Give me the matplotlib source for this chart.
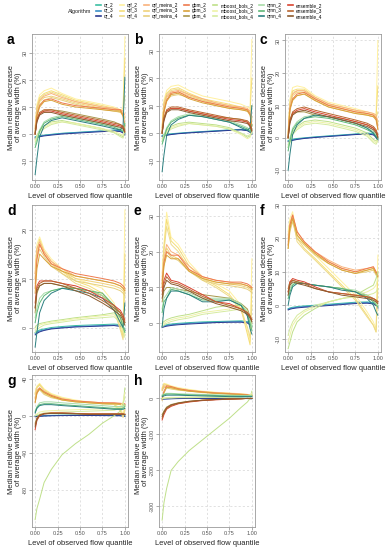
import matplotlib
matplotlib.use("Agg")
import matplotlib.pyplot as plt
from matplotlib.lines import Line2D

plt.rcParams["font.family"] = ["Liberation Sans", "DejaVu Sans"]

QUANTILE = [0.0, 0.02, 0.05, 0.1, 0.18, 0.3, 0.45, 0.6, 0.75, 0.88, 0.95, 0.98, 1.0]

SERIES = ["qr_2", "qr_3", "qr_4",
          "qrf_2", "qrf_3", "qrf_4",
          "qrf_meins_2", "qrf_meins_3", "qrf_meins_4",
          "gbm_2", "gbm_3", "gbm_4",
          "mboost_bols_2", "mboost_bols_3", "mboost_bols_4",
          "qrnn_2", "qrnn_3", "qrnn_4",
          "ensemble_2", "ensemble_3", "ensemble_4"]

COLORS = ["#3CBFA3", "#3A8FC7", "#2B3990",
          "#FFF1A0", "#F5DE78", "#EEDB8A",
          "#F9B27C", "#F0D27A", "#E6CF7E",
          "#EE7A4E", "#D9A23A", "#A8964A",
          "#BFE08A", "#EEF2A6", "#D6EBA0",
          "#A8DCA8", "#5DB877", "#2A7F7F",
          "#D9432F", "#B8652F", "#8C5A2E"]

PANEL_A = {
    "qr_2": [-1.0, -0.8, -0.6, -0.4, -0.1, 0.3, 0.6, 0.9, 1.2, 1.5, 1.3, 0.8, 0.2],
    "qr_3": [-1.2, -1.0, -0.8, -0.5, -0.2, 0.2, 0.5, 0.8, 1.1, 1.4, 1.2, 0.6, 0.0],
    "qr_4": [-1.5, -1.3, -1.0, -0.7, -0.4, 0.0, 0.3, 0.6, 0.9, 1.1, 0.9, 0.4, -0.4],
    "qrf_2": [3.0, 11.0, 14.5, 16.0, 17.0, 15.0, 13.0, 12.0, 11.0, 10.0, 9.0, 9.5, 36.0],
    "qrf_3": [2.0, 10.0, 13.5, 15.0, 16.0, 14.5, 12.5, 11.5, 10.5, 9.5, 8.5, 8.5, 28.0],
    "qrf_4": [2.0, 9.5, 13.0, 14.5, 15.5, 14.0, 12.0, 11.0, 10.0, 9.0, 8.0, 8.0, 14.0],
    "qrf_meins_2": [1.0, 9.0, 12.5, 14.0, 15.0, 13.5, 12.0, 11.0, 10.0, 9.5, 9.0, 8.5, 7.0],
    "qrf_meins_3": [1.0, 8.5, 12.0, 13.5, 14.0, 13.0, 11.5, 10.5, 9.5, 9.0, 8.5, 7.5, 6.0],
    "qrf_meins_4": [0.5, 8.0, 11.0, 12.5, 13.5, 12.5, 11.0, 10.0, 9.0, 8.5, 8.0, 7.0, 5.5],
    "gbm_2": [0.5, 7.0, 10.5, 12.5, 13.0, 11.5, 10.5, 10.0, 9.5, 9.0, 9.0, 7.0, 3.0],
    "gbm_3": [0.0, 6.5, 10.0, 12.0, 12.5, 11.0, 10.0, 9.5, 9.0, 8.5, 8.5, 6.5, 2.5],
    "gbm_4": [0.0, 5.0, 7.5, 8.5, 9.0, 8.5, 7.5, 6.5, 5.5, 4.5, 3.5, 2.5, 1.0],
    "mboost_bols_2": [-2.0, -0.5, 1.5, 3.0, 4.5, 5.0, 4.0, 3.0, 2.0, 0.5, -0.5, -1.0, 4.0],
    "mboost_bols_3": [-2.5, -1.0, 1.0, 2.5, 4.0, 4.5, 4.0, 3.0, 2.0, 1.0, 0.0, -0.5, 2.0],
    "mboost_bols_4": [-3.0, -1.5, 0.5, 2.0, 3.5, 4.5, 3.5, 2.5, 1.5, 0.5, -1.0, -1.5, 1.0],
    "qrnn_2": [-4.0, -2.0, 1.5, 4.5, 6.0, 7.0, 6.0, 5.0, 4.0, 3.0, 2.0, 1.5, 2.0],
    "qrnn_3": [-5.0, -3.0, 1.0, 4.0, 5.5, 6.5, 5.5, 4.5, 3.5, 2.5, 1.5, 1.0, 4.0],
    "qrnn_4": [-15.0, -9.0, -1.0, 3.0, 5.0, 6.0, 5.0, 4.0, 3.0, 2.0, 1.5, 3.0, 21.0],
    "ensemble_2": [0.0, 5.0, 7.5, 8.5, 8.5, 7.5, 6.5, 5.5, 4.5, 3.5, 3.0, 2.5, 1.0],
    "ensemble_3": [0.0, 5.5, 8.0, 9.0, 9.0, 8.0, 7.0, 6.0, 5.0, 4.0, 3.5, 3.0, 1.5],
    "ensemble_4": [0.0, 4.5, 7.0, 8.0, 8.0, 7.0, 6.0, 5.0, 4.0, 3.0, 2.5, 2.0, 0.5],
}

PANEL_B = {
    "qr_2": [-0.8, -0.6, -0.4, -0.2, 0.0, 0.3, 0.6, 0.9, 1.2, 1.4, 1.2, 0.7, 0.1],
    "qr_3": [-1.0, -0.8, -0.6, -0.4, -0.1, 0.2, 0.5, 0.8, 1.1, 1.3, 1.0, 0.5, -0.2],
    "qr_4": [-1.2, -1.0, -0.8, -0.5, -0.2, 0.1, 0.4, 0.7, 1.0, 1.2, 0.9, 0.3, -0.5],
    "qrf_2": [3.0, 12.0, 15.5, 17.0, 17.5, 15.5, 13.5, 12.5, 11.5, 10.5, 9.5, 9.0, 34.0],
    "qrf_3": [2.0, 11.0, 14.5, 16.0, 16.5, 14.5, 12.5, 11.5, 10.5, 9.5, 8.5, 8.0, 20.0],
    "qrf_4": [2.0, 10.5, 14.0, 15.5, 16.0, 14.0, 12.0, 11.0, 10.0, 9.0, 8.0, 7.5, 10.0],
    "qrf_meins_2": [1.0, 10.0, 13.5, 15.0, 15.5, 14.0, 12.5, 11.0, 10.0, 9.5, 9.0, 8.0, 6.0],
    "qrf_meins_3": [1.0, 9.5, 13.0, 14.5, 15.0, 13.5, 12.0, 10.5, 9.5, 9.0, 8.5, 7.5, 5.5],
    "qrf_meins_4": [0.5, 9.0, 12.0, 13.5, 14.0, 13.0, 11.5, 10.0, 9.0, 8.5, 8.0, 7.0, 5.0],
    "gbm_2": [0.5, 8.0, 12.0, 14.5, 15.0, 13.0, 11.5, 10.5, 9.5, 9.0, 8.5, 7.0, 3.0],
    "gbm_3": [0.0, 7.5, 11.5, 14.0, 14.5, 12.5, 11.0, 10.0, 9.0, 8.5, 8.0, 6.5, 2.5],
    "gbm_4": [0.0, 5.5, 8.0, 9.0, 9.0, 8.0, 7.0, 6.0, 5.5, 5.0, 4.0, 2.5, 1.0],
    "mboost_bols_2": [-2.0, -0.5, 1.0, 2.5, 3.5, 4.0, 3.5, 3.0, 2.0, 0.0, -1.5, -1.0, 1.0],
    "mboost_bols_3": [-2.5, -1.0, 0.5, 2.0, 3.0, 3.5, 3.0, 2.5, 1.5, -0.5, -2.0, -1.5, 0.5],
    "mboost_bols_4": [-3.0, -1.5, 0.0, 1.5, 2.5, 3.5, 3.0, 2.5, 1.5, 0.0, -1.0, -0.5, 0.0],
    "qrnn_2": [-3.0, -1.0, 2.0, 4.5, 6.0, 7.0, 6.5, 5.5, 4.5, 3.0, 2.0, 1.0, 1.5],
    "qrnn_3": [-4.0, -2.0, 1.5, 4.0, 5.5, 6.5, 6.0, 5.0, 4.0, 2.5, 1.5, 0.5, 3.0],
    "qrnn_4": [-14.0, -8.0, -1.0, 3.0, 5.0, 6.5, 6.0, 5.0, 4.0, 2.0, 1.0, 2.0, 10.0],
    "ensemble_2": [0.0, 5.0, 8.0, 9.0, 9.0, 8.0, 7.0, 6.0, 5.0, 4.5, 4.0, 3.0, 1.0],
    "ensemble_3": [0.0, 5.5, 8.5, 9.5, 9.5, 8.5, 7.5, 6.5, 5.5, 5.0, 4.5, 3.5, 1.5],
    "ensemble_4": [0.0, 4.5, 7.5, 8.5, 8.5, 7.5, 6.5, 5.5, 4.5, 4.0, 3.5, 2.5, 0.5],
}

PANEL_C = {
    "qr_2": [-0.8, -0.6, -0.4, -0.2, 0.0, 0.3, 0.6, 0.9, 1.2, 1.5, 1.3, 0.6, -0.2],
    "qr_3": [-1.0, -0.8, -0.6, -0.4, -0.1, 0.2, 0.5, 0.8, 1.1, 1.3, 1.1, 0.4, -0.5],
    "qr_4": [-1.2, -1.0, -0.8, -0.5, -0.2, 0.1, 0.4, 0.7, 1.0, 1.2, 0.9, 0.2, -0.8],
    "qrf_2": [2.0, 12.0, 15.5, 16.0, 15.5, 13.0, 11.0, 10.0, 9.0, 8.0, 7.5, 7.0, 30.0],
    "qrf_3": [1.5, 11.0, 14.5, 15.0, 15.0, 12.5, 10.5, 9.5, 8.5, 7.5, 7.0, 6.5, 16.0],
    "qrf_4": [1.0, 10.5, 14.0, 14.5, 14.5, 12.0, 10.0, 9.0, 8.0, 7.0, 6.5, 6.0, 8.0],
    "qrf_meins_2": [1.0, 10.0, 13.5, 14.5, 14.5, 12.5, 10.5, 9.5, 8.5, 8.0, 7.5, 7.0, 5.0],
    "qrf_meins_3": [1.0, 9.5, 13.0, 14.0, 14.0, 12.0, 10.0, 9.0, 8.0, 7.5, 7.0, 6.5, 4.5],
    "qrf_meins_4": [0.5, 9.0, 12.0, 13.0, 13.5, 11.5, 9.5, 8.5, 7.5, 7.0, 6.5, 6.0, 4.0],
    "gbm_2": [0.5, 9.0, 12.0, 13.5, 14.0, 12.0, 10.0, 9.0, 8.0, 7.5, 7.0, 6.0, 3.0],
    "gbm_3": [0.0, 8.5, 11.5, 13.0, 13.5, 11.5, 9.5, 8.5, 7.5, 7.0, 6.5, 5.5, 2.5],
    "gbm_4": [0.0, 5.5, 7.5, 8.0, 8.0, 7.0, 6.5, 6.0, 5.0, 4.0, 3.0, 2.0, 0.5],
    "mboost_bols_2": [-2.0, -0.5, 2.0, 3.5, 5.0, 5.5, 5.0, 4.0, 3.0, 1.5, -0.5, -1.0, 0.0],
    "mboost_bols_3": [-2.5, -1.0, 1.5, 3.0, 4.5, 5.0, 4.5, 3.5, 2.5, 1.0, -1.0, -1.5, -0.5],
    "mboost_bols_4": [-3.0, -1.5, 1.0, 2.5, 4.0, 4.5, 4.0, 3.0, 2.0, 0.5, -1.5, -2.0, -1.0],
    "qrnn_2": [-3.0, 0.0, 3.0, 5.0, 6.5, 7.0, 6.5, 5.5, 4.5, 3.0, 2.0, 1.0, 0.5],
    "qrnn_3": [-4.0, -1.0, 2.5, 4.5, 6.0, 6.5, 6.0, 5.0, 4.0, 2.5, 1.5, 0.5, 0.0],
    "qrnn_4": [-10.0, -5.0, 1.0, 4.0, 6.0, 7.0, 6.5, 5.5, 4.5, 3.0, 1.5, 0.0, -0.5],
    "ensemble_2": [0.0, 5.0, 7.5, 8.5, 9.0, 8.0, 7.0, 6.0, 5.0, 4.0, 3.0, 2.0, 0.5],
    "ensemble_3": [0.0, 5.5, 8.0, 9.0, 9.5, 8.5, 7.5, 6.5, 5.5, 4.5, 3.5, 2.5, 1.0],
    "ensemble_4": [0.0, 4.5, 7.0, 8.0, 8.5, 7.5, 6.5, 5.5, 4.5, 3.5, 2.5, 1.5, 0.0],
}

PANEL_D = {
    "qr_2": [-1.0, -0.8, -0.5, -0.3, 0.0, 0.2, 0.4, 0.5, 0.6, 0.7, 0.6, 0.2, -0.3],
    "qr_3": [-1.2, -1.0, -0.7, -0.5, -0.2, 0.0, 0.2, 0.3, 0.4, 0.5, 0.4, 0.0, -0.5],
    "qr_4": [-1.5, -1.2, -0.9, -0.6, -0.3, -0.1, 0.1, 0.2, 0.3, 0.4, 0.2, -0.2, -0.6],
    "qrf_2": [12.0, 17.0, 18.5, 16.0, 14.0, 12.0, 10.0, 9.0, 8.0, 5.0, 1.0, -1.5, 24.0],
    "qrf_3": [11.0, 16.0, 18.0, 15.5, 13.5, 11.5, 9.5, 8.5, 7.0, 4.0, 0.0, -2.0, 15.0],
    "qrf_4": [10.0, 15.0, 17.0, 15.0, 13.0, 11.0, 9.0, 8.0, 6.5, 3.5, -0.5, -2.5, 8.0],
    "qrf_meins_2": [11.0, 16.0, 17.5, 15.5, 13.5, 12.0, 10.5, 10.0, 9.5, 9.0, 8.5, 8.0, 7.5],
    "qrf_meins_3": [10.0, 15.0, 17.0, 15.0, 13.0, 11.5, 10.0, 9.5, 9.0, 8.5, 8.0, 7.5, 7.0],
    "qrf_meins_4": [9.0, 14.0, 16.0, 14.5, 12.5, 11.0, 9.5, 9.0, 8.5, 8.0, 7.5, 7.0, 6.5],
    "gbm_2": [8.0, 14.0, 17.0, 15.0, 13.0, 12.0, 11.0, 10.5, 10.0, 9.5, 9.0, 8.5, 8.0],
    "gbm_3": [7.0, 12.0, 15.0, 14.0, 12.5, 11.5, 10.5, 10.0, 9.5, 9.0, 8.5, 8.0, 7.5],
    "gbm_4": [3.0, 7.0, 8.5, 9.0, 9.0, 8.5, 8.0, 7.5, 6.5, 4.5, 3.0, 2.0, 1.0],
    "mboost_bols_2": [0.0, 0.5, 0.8, 1.0, 1.3, 1.6, 2.0, 2.3, 2.6, 3.0, 2.0, 0.5, -1.0],
    "mboost_bols_3": [-0.5, 0.0, 0.5, 0.8, 1.1, 1.4, 1.8, 2.1, 2.4, 2.6, 1.5, 0.0, -1.5],
    "mboost_bols_4": [-1.0, -0.5, 0.0, 0.5, 0.8, 1.1, 1.5, 1.8, 2.0, 2.2, 1.0, -0.5, -2.0],
    "qrnn_2": [2.0, 4.0, 6.0, 7.0, 7.5, 8.0, 8.0, 7.5, 6.5, 4.0, 2.0, 1.0, 0.5],
    "qrnn_3": [1.0, 3.0, 5.0, 6.5, 7.5, 8.0, 8.0, 7.5, 7.0, 4.5, 2.0, 0.0, -1.0],
    "qrnn_4": [-4.0, -1.0, 3.0, 5.5, 7.0, 8.0, 7.5, 7.0, 6.0, 3.5, 1.0, 0.0, 5.0],
    "ensemble_2": [5.0, 8.5, 9.5, 9.5, 9.5, 9.0, 8.5, 7.5, 6.0, 4.5, 3.5, 2.5, 1.5],
    "ensemble_3": [4.0, 8.0, 9.0, 9.5, 9.5, 9.0, 8.0, 7.0, 5.5, 4.0, 3.0, 2.0, 1.0],
    "ensemble_4": [4.0, 7.5, 8.5, 9.0, 9.0, 8.5, 7.5, 6.5, 5.0, 3.5, 2.5, 1.5, 0.5],
}

PANEL_E = {
    "qr_2": [-0.8, -0.6, -0.4, -0.2, 0.0, 0.2, 0.4, 0.5, 0.6, 0.7, 0.5, 0.0, -0.5],
    "qr_3": [-1.0, -0.8, -0.6, -0.4, -0.2, 0.0, 0.2, 0.3, 0.4, 0.5, 0.3, -0.2, -0.8],
    "qr_4": [-1.2, -1.0, -0.8, -0.6, -0.4, -0.2, 0.0, 0.2, 0.3, 0.3, 0.1, -0.4, -1.0],
    "qrf_2": [14.0, 22.0, 31.0, 24.0, 22.0, 17.0, 13.0, 11.0, 9.0, 5.0, -2.0, -5.0, 18.0],
    "qrf_3": [13.0, 21.0, 29.0, 23.0, 21.0, 16.0, 12.5, 10.5, 8.0, 4.0, -3.0, -6.0, 10.0],
    "qrf_4": [12.0, 20.0, 27.0, 22.0, 20.0, 15.0, 12.0, 10.0, 7.5, 3.5, -1.0, -4.0, 5.0],
    "qrf_meins_2": [12.0, 18.0, 22.0, 20.0, 19.0, 16.0, 13.0, 12.0, 11.5, 11.0, 10.5, 10.0, 10.0],
    "qrf_meins_3": [11.0, 17.0, 21.0, 19.0, 18.0, 15.0, 12.5, 11.5, 11.0, 10.5, 10.0, 9.5, 9.0],
    "qrf_meins_4": [10.0, 16.0, 20.0, 18.5, 17.5, 14.5, 12.0, 11.0, 10.5, 10.0, 9.5, 9.0, 8.5],
    "gbm_2": [11.0, 17.0, 20.0, 19.0, 19.0, 15.0, 13.0, 12.0, 11.5, 11.5, 11.0, 10.5, 10.0],
    "gbm_3": [10.0, 16.0, 19.0, 18.0, 18.0, 14.5, 12.5, 11.5, 11.0, 11.0, 10.5, 10.0, 9.5],
    "gbm_4": [6.0, 9.0, 10.0, 10.0, 9.5, 9.0, 8.0, 7.5, 7.0, 5.5, 4.0, 2.0, 0.0],
    "mboost_bols_2": [0.0, 0.5, 1.0, 1.5, 2.0, 2.5, 3.5, 4.5, 5.0, 5.0, 3.5, 1.0, -0.5],
    "mboost_bols_3": [-0.5, 0.0, 0.5, 1.0, 1.5, 2.0, 3.0, 3.5, 4.0, 4.5, 3.0, 0.5, -1.0],
    "mboost_bols_4": [-1.0, -0.5, 0.0, 0.5, 1.0, 1.5, 2.5, 3.0, 3.5, 4.0, 2.5, 0.0, -1.5],
    "qrnn_2": [4.0, 7.0, 8.0, 10.0, 9.5, 8.5, 7.0, 7.0, 7.0, 5.5, 3.0, 1.0, -1.0],
    "qrnn_3": [3.0, 6.0, 7.0, 9.5, 9.0, 8.0, 6.5, 6.5, 6.5, 5.0, 2.5, 0.0, -2.0],
    "qrnn_4": [-1.0, 4.0, 7.0, 9.0, 9.0, 8.0, 6.0, 6.0, 6.5, 5.0, 2.0, -1.5, -3.0],
    "ensemble_2": [9.0, 12.0, 14.0, 12.0, 11.5, 10.0, 8.0, 6.0, 5.5, 4.0, 3.0, 2.0, 1.0],
    "ensemble_3": [8.0, 11.0, 13.0, 11.5, 11.0, 9.5, 7.5, 6.0, 5.0, 4.0, 3.0, 2.0, 1.0],
    "ensemble_4": [7.0, 10.0, 12.0, 11.0, 10.5, 9.0, 7.0, 5.5, 4.5, 3.5, 2.5, 1.5, 0.5],
}

PANEL_F = {
    "qr_2": [-1.0, -0.8, -0.6, -0.4, -0.2, 0.0, 0.3, 0.6, 0.9, 1.0, 0.8, 0.3, -0.5],
    "qr_3": [-1.2, -1.0, -0.8, -0.6, -0.4, -0.2, 0.1, 0.4, 0.7, 0.8, 0.6, 0.1, -0.7],
    "qr_4": [-1.4, -1.2, -1.0, -0.8, -0.6, -0.4, -0.1, 0.2, 0.5, 0.6, 0.4, -0.1, -0.9],
    "qrf_2": [22.0, 26.0, 28.0, 21.0, 18.0, 15.0, 11.0, 7.0, 3.0, -2.0, -5.0, -7.0, 15.0],
    "qrf_3": [21.0, 25.0, 27.0, 20.0, 17.0, 14.0, 10.0, 6.0, 2.0, -3.0, -6.0, -8.0, 10.0],
    "qrf_4": [20.0, 24.0, 26.0, 19.0, 16.5, 13.5, 9.5, 5.5, 1.5, -3.5, -6.0, -8.0, 5.0],
    "qrf_meins_2": [19.0, 24.0, 27.0, 22.0, 19.0, 16.0, 13.5, 11.5, 10.5, 11.0, 11.5, 10.0, 9.5],
    "qrf_meins_3": [18.0, 23.0, 26.0, 21.0, 18.5, 15.5, 13.0, 11.0, 10.0, 10.5, 11.0, 9.5, 9.0],
    "qrf_meins_4": [17.0, 22.0, 25.0, 20.0, 18.0, 15.0, 12.5, 10.5, 9.5, 10.0, 10.5, 9.0, 8.5],
    "gbm_2": [18.0, 24.0, 27.0, 22.0, 19.0, 16.0, 13.0, 11.0, 10.0, 11.0, 11.5, 10.0, 9.0],
    "gbm_3": [17.0, 23.0, 26.0, 21.0, 18.5, 15.5, 12.5, 10.5, 9.5, 10.5, 11.0, 9.5, 8.5],
    "gbm_4": [5.0, 7.0, 7.5, 7.0, 6.5, 6.0, 5.5, 5.0, 4.0, 3.0, 2.0, 1.5, 1.0],
    "mboost_bols_2": [-13.0, -11.0, -8.0, -5.0, -3.0, -1.0, 1.0, 2.0, 3.0, 5.0, 6.0, 8.0, 10.0],
    "mboost_bols_3": [-11.0, -9.0, -6.0, -4.0, -2.0, -0.5, 1.0, 2.0, 3.0, 4.0, 5.0, 6.0, 8.0],
    "mboost_bols_4": [-9.0, -7.0, -5.0, -3.0, -1.5, 0.0, 1.0, 2.0, 2.5, 3.0, 3.5, 4.0, 5.0],
    "qrnn_2": [3.0, 5.0, 6.5, 7.0, 6.5, 6.0, 5.5, 5.0, 4.5, 3.0, 1.5, 0.5, 0.0],
    "qrnn_3": [2.0, 4.0, 6.0, 7.0, 6.5, 6.0, 5.5, 5.0, 4.0, 2.5, 1.0, 0.0, -0.5],
    "qrnn_4": [0.0, 3.0, 5.5, 6.5, 6.5, 6.0, 5.5, 4.5, 4.0, 2.0, 0.0, -2.0, -3.0],
    "ensemble_2": [4.0, 7.0, 8.0, 7.5, 7.0, 5.5, 4.0, 3.5, 3.0, 2.5, 2.0, 1.5, 1.0],
    "ensemble_3": [4.0, 6.5, 7.5, 7.0, 6.5, 5.0, 4.0, 3.5, 3.0, 2.5, 2.0, 1.5, 1.0],
    "ensemble_4": [3.0, 6.0, 7.0, 6.5, 6.0, 5.0, 4.0, 3.0, 2.5, 2.0, 1.5, 1.0, 0.5],
}

PANEL_G = {
    "qr_2": [0.0, 0.0, 0.0, 0.3, 0.5, 0.7, 0.8, 0.8, 0.7, 0.6, 0.5, 0.3, 0.0],
    "qr_3": [-0.5, -0.5, -0.3, 0.0, 0.2, 0.4, 0.5, 0.5, 0.4, 0.3, 0.2, 0.0, -0.3],
    "qr_4": [-1.0, -0.8, -0.6, -0.3, 0.0, 0.2, 0.3, 0.3, 0.2, 0.1, 0.0, -0.2, -0.5],
    "qrf_2": [25.0, 32.0, 35.0, 29.0, 24.0, 20.0, 17.0, 15.0, 14.0, 13.0, 8.0, 2.0, 10.0],
    "qrf_3": [24.0, 31.0, 34.0, 28.0, 23.0, 19.0, 16.0, 14.5, 13.5, 12.5, 6.0, 0.0, 8.0],
    "qrf_4": [23.0, 30.0, 33.0, 27.0, 22.0, 18.5, 15.5, 14.0, 13.0, 12.0, 5.0, -2.0, 5.0],
    "qrf_meins_2": [20.0, 28.0, 30.0, 25.0, 21.0, 18.0, 16.0, 15.0, 14.0, 13.5, 13.0, 12.5, 12.0],
    "qrf_meins_3": [19.0, 27.0, 29.0, 24.0, 20.0, 17.5, 15.5, 14.5, 13.5, 13.0, 12.5, 12.0, 11.5],
    "qrf_meins_4": [18.0, 26.0, 28.0, 23.0, 19.5, 17.0, 15.0, 14.0, 13.0, 12.5, 12.0, 11.5, 11.0],
    "gbm_2": [15.0, 25.0, 30.0, 26.0, 22.0, 18.0, 16.0, 15.0, 14.0, 14.0, 13.5, 13.0, 13.0],
    "gbm_3": [14.0, 24.0, 29.0, 25.0, 21.0, 17.0, 15.0, 14.0, 13.0, 13.0, 12.5, 12.0, 12.0],
    "gbm_4": [-8.0, -2.0, 1.0, 2.5, 3.0, 3.0, 2.5, 2.0, 2.0, 2.0, 2.0, 2.0, 1.5],
    "mboost_bols_2": [-112.0, -100.0, -90.0, -72.0, -58.0, -42.0, -30.0, -20.0, -8.0, 0.0, 5.0, 10.0, 30.0],
    "mboost_bols_3": [0.0, 2.0, 4.0, 5.0, 5.5, 6.0, 6.5, 7.0, 7.5, 8.0, 10.0, 15.0, 25.0],
    "mboost_bols_4": [0.0, 1.0, 2.0, 3.0, 3.5, 4.0, 4.5, 5.0, 5.5, 6.0, 8.0, 12.0, 20.0],
    "qrnn_2": [5.0, 10.0, 14.0, 15.0, 15.0, 14.0, 13.0, 12.0, 11.0, 10.0, 10.0, 10.0, 12.0],
    "qrnn_3": [4.0, 9.0, 12.0, 13.0, 13.0, 12.0, 11.0, 10.0, 9.0, 8.0, 8.0, 8.0, 10.0],
    "qrnn_4": [3.0, 8.0, 11.0, 12.0, 12.0, 11.0, 10.0, 9.0, 8.0, 7.0, 7.0, 7.0, 8.0],
    "ensemble_2": [-15.0, -5.0, 0.0, 2.0, 3.0, 3.0, 2.5, 2.0, 2.0, 2.0, 2.0, 2.0, 1.5],
    "ensemble_3": [-10.0, -3.0, 1.0, 2.5, 3.0, 3.0, 2.5, 2.0, 2.0, 2.0, 2.0, 2.0, 1.5],
    "ensemble_4": [-12.0, -4.0, 0.5, 2.0, 2.5, 2.5, 2.0, 1.5, 1.5, 1.5, 1.5, 1.5, 1.0],
}

PANEL_H = {
    "qr_2": [0.0, 0.0, 0.0, 0.0, 0.5, 1.0, 1.0, 1.0, 1.0, 1.0, 0.5, 0.0, 0.0],
    "qr_3": [-1.0, -1.0, -1.0, -0.5, 0.0, 0.5, 0.5, 0.5, 0.5, 0.5, 0.0, -0.5, -0.5],
    "qr_4": [-2.0, -2.0, -1.5, -1.0, -0.5, 0.0, 0.0, 0.0, 0.0, 0.0, -0.5, -1.0, -1.0],
    "qrf_2": [30.0, 42.0, 40.0, 35.0, 30.0, 25.0, 20.0, 17.0, 15.0, 13.0, 11.0, 10.0, 10.0],
    "qrf_3": [28.0, 40.0, 38.0, 33.0, 28.0, 23.0, 19.0, 16.0, 14.0, 12.0, 10.0, 9.0, 9.0],
    "qrf_4": [26.0, 38.0, 36.0, 31.0, 26.0, 22.0, 18.0, 15.0, 13.0, 11.0, 10.0, 9.0, 8.0],
    "qrf_meins_2": [25.0, 35.0, 33.0, 30.0, 26.0, 22.0, 18.0, 16.0, 14.0, 12.0, 11.0, 10.0, 10.0],
    "qrf_meins_3": [23.0, 33.0, 31.0, 28.0, 24.0, 21.0, 17.0, 15.0, 13.0, 11.0, 10.0, 9.0, 9.0],
    "qrf_meins_4": [21.0, 31.0, 29.0, 26.0, 23.0, 20.0, 16.0, 14.0, 12.0, 10.0, 9.0, 8.0, 8.0],
    "gbm_2": [0.0, 20.0, 35.0, 33.0, 27.0, 22.0, 18.0, 15.0, 13.0, 11.0, 10.0, 9.0, 8.0],
    "gbm_3": [-5.0, 15.0, 30.0, 30.0, 25.0, 20.0, 17.0, 14.0, 12.0, 10.0, 9.0, 8.0, 7.0],
    "gbm_4": [-45.0, -35.0, -24.0, -17.0, -12.0, -8.0, -5.0, -3.0, -2.0, -1.0, 0.0, 0.0, 0.0],
    "mboost_bols_2": [-338.0, -290.0, -250.0, -200.0, -175.0, -145.0, -115.0, -85.0, -55.0, -25.0, -10.0, 0.0, 20.0],
    "mboost_bols_3": [0.0, 1.0, 2.0, 3.0, 3.0, 4.0, 4.0, 5.0, 5.0, 6.0, 8.0, 10.0, 15.0],
    "mboost_bols_4": [0.0, 0.0, 1.0, 1.0, 2.0, 2.0, 3.0, 3.0, 3.0, 4.0, 5.0, 7.0, 10.0],
    "qrnn_2": [10.0, 12.0, 14.0, 14.0, 13.0, 12.0, 11.0, 10.0, 9.0, 8.0, 8.0, 8.0, 8.0],
    "qrnn_3": [8.0, 10.0, 12.0, 12.0, 11.0, 10.0, 9.0, 8.0, 7.0, 6.0, 6.0, 6.0, 6.0],
    "qrnn_4": [5.0, 7.0, 9.0, 9.0, 9.0, 8.0, 7.0, 6.0, 5.0, 5.0, 5.0, 5.0, 5.0],
    "ensemble_2": [-60.0, -45.0, -30.0, -22.0, -15.0, -10.0, -6.0, -4.0, -2.0, -1.0, 0.0, 0.0, 0.0],
    "ensemble_3": [-55.0, -40.0, -28.0, -20.0, -14.0, -9.0, -5.0, -3.0, -2.0, -1.0, 0.0, 0.0, 0.0],
    "ensemble_4": [-50.0, -38.0, -26.0, -18.0, -13.0, -8.0, -5.0, -3.0, -1.5, -1.0, 0.0, 0.0, 0.0],
}

LETTERS = ["a", "b", "c", "d", "e", "f", "g", "h"]
YTICKS = [[-10, 0, 10, 20, 30], [-10, 0, 10, 20, 30], [-10, 0, 10, 20, 30],
          [0, 10, 20], [0, 10, 20, 30], [-10, 0, 10, 20, 30],
          [-80, -40, 0, 40], [-300, -200, -100, 0]]
YLIMS = [(-17, 37), (-17, 36), (-13, 32), (-5, 25), (-8, 33), (-14, 30), (-120, 44), (-357, 65)]
XTICKS = [0.0, 0.25, 0.5, 0.75, 1.0]
PANELS = [PANEL_A, PANEL_B, PANEL_C, PANEL_D, PANEL_E, PANEL_F, PANEL_G, PANEL_H]

W, H = 388, 550
COL_LEFT = [32, 159, 285]
AX_W = 96
ROW_TOP = [34, 205, 375]
ROW_BOT = [180, 352, 527]

fig = plt.figure(figsize=(W / 100, H / 100), dpi=100)
fig.patch.set_facecolor("white")

for i, data in enumerate(PANELS):
    r, c = divmod(i, 3)
    left, top, bot = COL_LEFT[c], ROW_TOP[r], ROW_BOT[r]
    ax = fig.add_axes([left / W, 1 - bot / H, AX_W / W, (bot - top) / H])
    for name, col in zip(SERIES, COLORS):
        ax.plot(QUANTILE, data[name], color=col, lw=0.7, zorder=3)
    ax.set_xlim(-0.035, 1.035)
    ax.set_ylim(*YLIMS[i])
    ax.set_xticks(XTICKS)
    ax.set_xticklabels([f"{t:.2f}" for t in XTICKS])
    ax.set_yticks(YTICKS[i])
    ax.set_yticklabels([str(t) for t in YTICKS[i]], rotation=90, va="center")
    ax.grid(True, color="#D4D4D4", ls=(0, (3, 3)), lw=0.5, zorder=0)
    ax.tick_params(length=2, width=0.5, color="#888888", labelsize=4.0,
                   labelcolor="#555555", pad=1.2)
    for s in ax.spines.values():
        s.set_color("#9A9A9A")
        s.set_linewidth(0.6)
    ax.set_xlabel("Level of observed flow quantile", fontsize=5.4, color="#222222", labelpad=2.5)
    fig.text((left - 17) / W, 1 - (top + bot) / 2 / H,
             "Median relative decrease\nof average width (%)",
             rotation=90, ha="center", va="center", fontsize=5.4, color="#222222",
             linespacing=1.1)
    fig.text((left - 25) / W, 1 - (top + 6) / H, LETTERS[i], fontsize=10,
             fontweight="bold", ha="left", va="center")

handles = [Line2D([0], [0], color=col, lw=1.2) for col in COLORS]
fig.legend(handles, SERIES, ncol=7, loc="center", bbox_to_anchor=(209 / W, 1 - 11 / H),
           fontsize=3.4, frameon=False, handlelength=1.0, handletextpad=0.6,
           columnspacing=1.3, labelspacing=0.1, borderpad=0)
fig.text(68 / W, 1 - 11.5 / H, "Algorithm", fontsize=4.0, ha="left", va="center", color="#222222")

fig.savefig("out.png", dpi=100, facecolor="white")
